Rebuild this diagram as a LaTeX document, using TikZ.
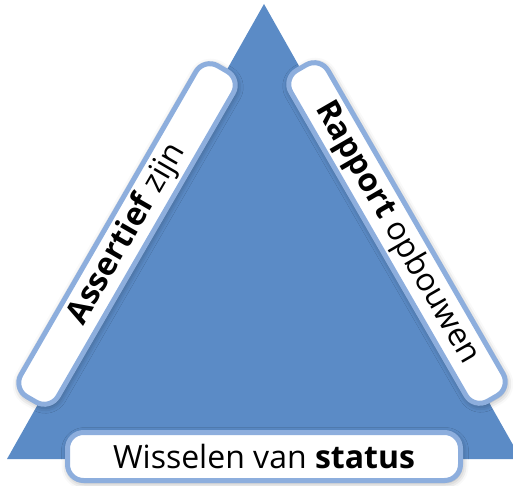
\documentclass[tikz,border=0pt]{standalone}
\usepackage{fontspec}
\setmainfont{Open Sans}
\usetikzlibrary{shadows.blur}
\definecolor{triblue}{HTML}{5B8BC6}
\definecolor{tabline}{HTML}{8DAEDD}

\begin{document}
\begin{tikzpicture}[x=1pt,y=1pt,
    tab/.style={draw=tabline,line width=5pt,fill=white,rounded corners=16pt,
      inner sep=0pt,minimum height=43pt,
      blur shadow={shadow xshift=1pt,shadow yshift=-2pt,shadow blur radius=7pt,shadow opacity=40},
      font=\fontsize{32}{36}\selectfont}]
\useasboundingbox (0,0) rectangle (513,485);
\clip (0,0) rectangle (513,485);
\fill[triblue] (264,481) -- (7,26) -- (521,26) -- cycle;

\node[tab,minimum width=382pt,rotate=60] at (127,251) (assertief) {\textbf{Assertief} zijn};
\node[tab,minimum width=382pt,rotate=-60] at (397,252) (rapport) {\textbf{Rapport} opbouwen};
\node[tab,minimum width=393pt,minimum height=48pt] at (264,28.5) (status) {Wisselen van \textbf{status}};
\end{tikzpicture}
\end{document}
